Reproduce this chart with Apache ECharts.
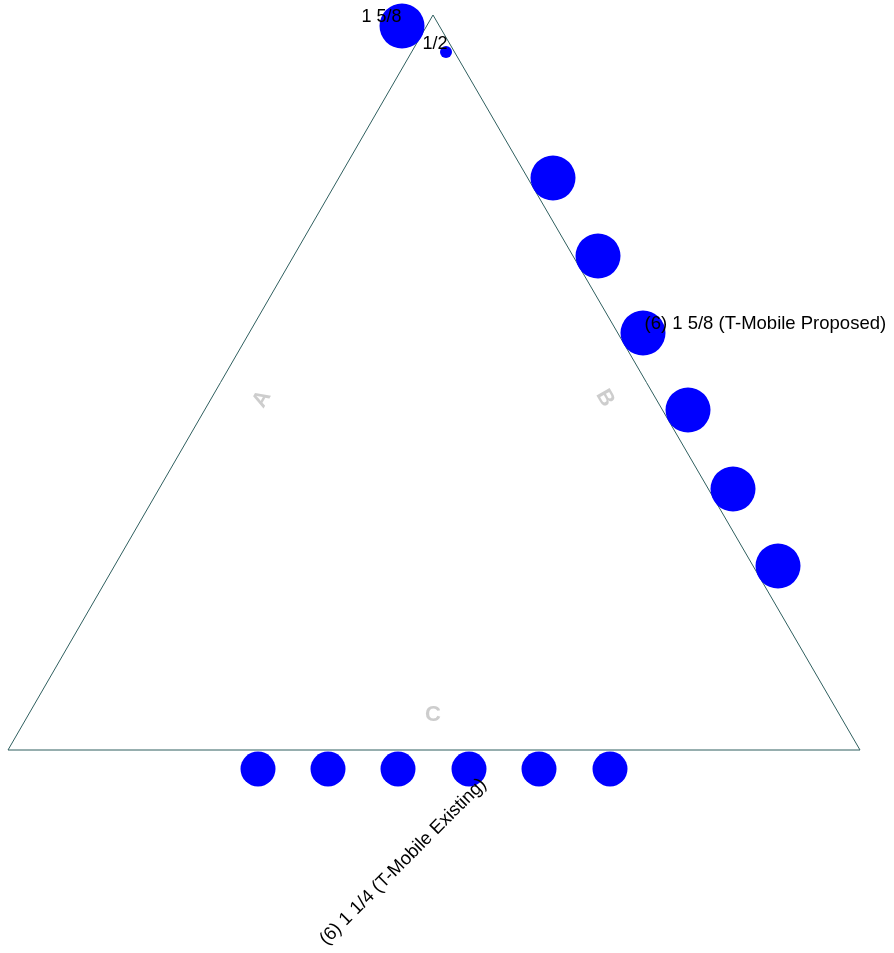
<!DOCTYPE html>
<html><head><meta charset="utf-8">
<script src="https://cdn.jsdelivr.net/npm/echarts@6/dist/echarts.min.js"></script>
<style>html,body{margin:0;padding:0;background:#fff}#c{width:894px;height:953px}</style>
</head><body><div id="c"></div>
<script>
// Diagram units (x right, y down)
const triangle = [[433, 15], [8, 750], [860, 750], [433, 15]];
const sideBCircles = [[553, 178], [598, 256], [643, 333], [688, 410], [733, 489], [778, 566]];
const sideBSize = 45;
const baseCircles = [[258, 769], [328, 769], [398, 769], [469, 769], [539, 769], [610, 769]];
const baseSize = 35;
const topCircles = [[402, 26, 45], [446, 52, 12]];
const topLabels = ['1 5/8', '1/2'];
const sideLabels = [
  {name: 'A', pos: [262, 399], rot: 60},
  {name: 'B', pos: [605, 398], rot: -60},
  {name: 'C', pos: [433, 715], rot: 0}
];
const proposedLabel = '(6) 1 5/8 (T-Mobile Proposed)';
const existingLabel = '(6) 1 1/4 (T-Mobile Existing)';

const font = 'Arial, "Liberation Sans", sans-serif';
const chart = echarts.init(document.getElementById('c'));
chart.setOption({
  animation: false,
  grid: {left: 0, right: 0, top: 0, bottom: 0},
  xAxis: {type: 'value', min: 0, max: 894, show: false},
  yAxis: {type: 'value', min: 0, max: 953, inverse: true, show: false},
  series: [
    {type: 'line', data: triangle, symbol: 'none', z: 1,
     lineStyle: {color: '#2f5f5f', width: 1}},
    {type: 'scatter', z: 3, data: sideBCircles.map((p, i) => ({value: p,
      label: i === 2 ? {show: true, formatter: proposedLabel, position: [24, 13], align: 'left',
        verticalAlign: 'middle', fontSize: 18.5, color: '#000', fontFamily: font} : {show: false}})),
     symbolSize: sideBSize, itemStyle: {color: '#0000ff', opacity: 1}},
    {type: 'scatter', z: 3, data: baseCircles.map((p, i) => ({value: p,
      label: i === 3 ? {show: true, formatter: existingLabel, position: [32, 30], align: 'right',
        verticalAlign: 'middle', rotate: 45, fontSize: 18.5, color: '#000', fontFamily: font} : {show: false}})),
     symbolSize: baseSize, itemStyle: {color: '#0000ff', opacity: 1}},
    {type: 'scatter', z: 3, data: topCircles.map((p, i) => ({value: [p[0], p[1]], symbolSize: p[2],
      label: {show: true, formatter: topLabels[i], fontSize: 18, color: '#000', fontFamily: font,
        align: 'center', verticalAlign: 'middle',
        position: i === 0 ? [2, 14] : [-5, -2]}})),
     itemStyle: {color: '#0000ff', opacity: 1}},
    {type: 'scatter', z: 4, symbolSize: 0, silent: true,
     data: sideLabels.map(s => ({value: s.pos, label: {show: true, formatter: s.name, position: 'inside',
       rotate: s.rot, fontSize: 22, fontWeight: 'bold', color: '#c0c0c0', fontFamily: font}}))}
  ]
});
</script></body></html>
